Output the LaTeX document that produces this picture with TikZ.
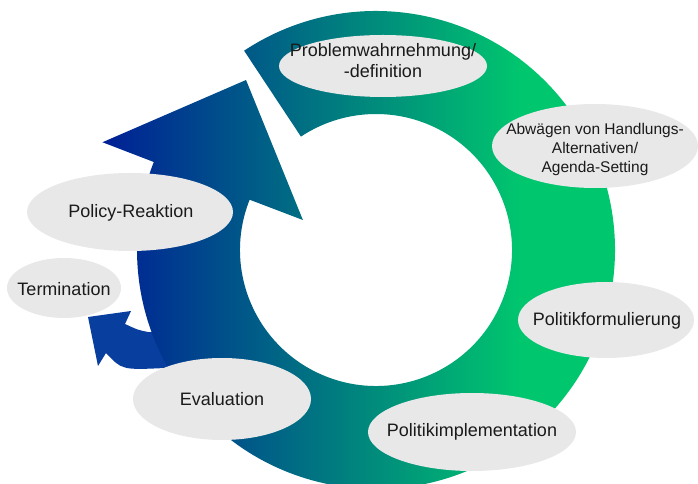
\documentclass[tikz,border=0pt]{standalone}
\usepackage{fontspec}
\setmainfont{Liberation Sans}
\usetikzlibrary{shapes.geometric}
\definecolor{ringL}{RGB}{0,30,150}
\definecolor{ringM}{RGB}{0,118,141}
\definecolor{ringR}{RGB}{0,198,110}
\definecolor{arrowB}{RGB}{8,62,158}
\definecolor{bubblegray}{RGB}{232,232,232}
\definecolor{txt}{RGB}{26,26,26}
\begin{document}
\begin{tikzpicture}[x=1pt,y=1pt,
  bubble/.style={ellipse, fill=bubblegray, inner sep=0pt},
  bubbletext/.style={inner sep=0pt, text=txt, align=center,
                 font=\fontsize{18}{21}\selectfont},
  ringfill/.style={left color=ringL, middle color=ringM, right color=ringR},
  smallarrow/.style={fill=arrowB}]
\useasboundingbox (0,0) rectangle (698,484);
\clip (0,0) rectangle (698,484);
\coordinate (C) at (376,234);
% small arrow towards Termination
\fill[smallarrow] (180,150) -- (148,152) .. controls (138,154) .. (125,160)
  -- (131,173) -- (88,167) -- (98,118) -- (106,131)
  .. controls (122,114) .. (165,116) -- (180,116) -- cycle;
% ring arrow with horizontal gradient
\begin{scope}
  \clip[shift={(C)}] (123.5:239pt) arc[start angle=123.5, end angle=-201.6, radius=239pt]
    -- (158.5:294pt) -- (127.4:214pt) -- (157.7:79pt) -- (158.3:136pt)
    arc[start angle=158.3, end angle=483.5, radius=136pt] -- cycle;
  \fill[ringL] (0,-20) rectangle (101,500);
  \shade[ringfill] (100,-20) rectangle (520,500);
  \fill[ringR] (519,-20) rectangle (700,500);
\end{scope}
% bubbles
\node[bubble, minimum width=208pt, minimum height=62pt] (prob) at (383,418) {};
\node[bubbletext] (probT) at (383,423) {Problemwahrnehmung/\\-definition};
\node[bubble, minimum width=206pt, minimum height=84pt] (abw) at (595,338) {};
\node[bubbletext, font=\fontsize{15.5}{19}\selectfont] (abwT) at (595,335)
  {Abwägen von Handlungs-\\Alternativen/\\Agenda-Setting};
\node[bubble, minimum width=176pt, minimum height=76pt] (form) at (606,164) {};
\node[bubbletext] (formT) at (607,163) {Politikformulierung};
\node[bubble, minimum width=208pt, minimum height=78pt] (impl) at (472,52) {};
\node[bubbletext] (implT) at (472,52) {Politikimplementation};
\node[bubble, minimum width=178pt, minimum height=82pt] (eval) at (222,85) {};
\node[bubbletext] (evalT) at (222,85) {Evaluation};
\node[bubble, minimum width=114pt, minimum height=60pt] (term) at (64,196) {};
\node[bubbletext] (termT) at (64,195) {Termination};
\node[bubble, minimum width=206pt, minimum height=78pt] (pol) at (130,272) {};
\node[bubbletext] (polT) at (131,271) {Policy-Reaktion};
\end{tikzpicture}
\end{document}
